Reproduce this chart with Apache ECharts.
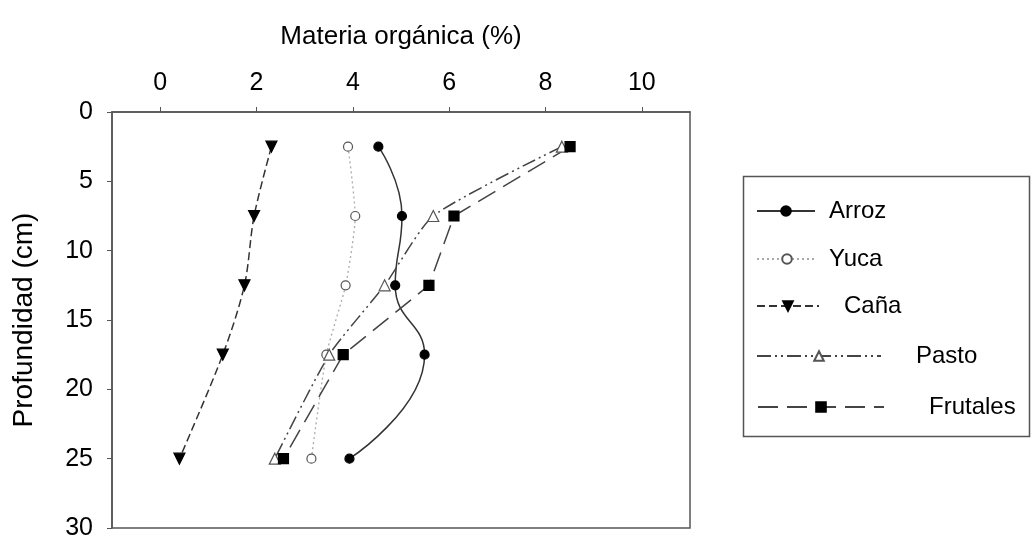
<!DOCTYPE html>
<html>
<head>
<meta charset="utf-8">
<script src="https://cdn.jsdelivr.net/npm/echarts@6/dist/echarts.min.js"></script>
<style>
  html, body { margin: 0; padding: 0; background: #fff; }
  #chart { width: 1031px; height: 546px; }
</style>
</head>
<body>
<div id="chart"></div>
<script>
// Depth of each sampling layer (cm)
const depths = [2.5, 7.5, 12.5, 17.5, 25];

// Organic matter (%) per land use, one value per depth
const arroz    = [4.53, 5.02, 4.88, 5.49, 3.93];
const yuca     = [3.90, 4.05, 3.85, 3.45, 3.14];
const cana     = [2.31, 1.95, 1.75, 1.30, 0.40];
const pasto    = [8.34, 5.67, 4.66, 3.51, 2.38];
const frutales = [8.51, 6.10, 5.58, 3.80, 2.56];

// Tick values
const xTicks = [0, 2, 4, 6, 8, 10];
const yTicks = [0, 5, 10, 15, 20, 25, 30];

const FONT = '"Liberation Sans", Arial, sans-serif';
const pairs = vals => vals.map((v, i) => [v, depths[i]]);

const seriesDefs = [
  { name: 'Arroz', data: arroz, symbol: 'circle', size: 9, fill: '#000', line: { type: 'solid', color: '#333', width: 1.5 }, smooth: 0.5, rotate: 0 },
  { name: 'Yuca', data: yuca, symbol: 'circle', size: 9, fill: '#fff', line: { type: [2, 3], color: '#aaa', width: 1.3 }, smooth: 0.2, rotate: 0 },
  { name: 'Caña', data: cana, symbol: 'triangle', size: 11, fill: '#000', line: { type: [8, 4], color: '#333', width: 1.5 }, smooth: 0.3, rotate: 180 },
  { name: 'Pasto', data: pasto, symbol: 'triangle', size: 11, fill: '#fff', line: { type: [14, 4, 2, 4, 2, 4], color: '#444', width: 1.5 }, smooth: 0.2, rotate: 0 },
  { name: 'Frutales', data: frutales, symbol: 'rect', size: 10, fill: '#000', line: { type: [20, 9], color: '#444', width: 1.5 }, smooth: 0, rotate: 0 }
];

const series = seriesDefs.map(d => ({
  name: d.name,
  type: 'line',
  data: pairs(d.data),
  symbol: d.symbol,
  symbolSize: d.size,
  symbolRotate: d.rotate,
  showAllSymbol: true,
  smooth: d.smooth,
  lineStyle: d.line,
  itemStyle: { color: d.fill, borderColor: d.fill === '#fff' ? '#555' : '#000', borderWidth: 1.2 },
  emphasis: { disabled: true },
  z: 3
}));

// One legend block per row so each sample line and label can sit on its own offset
const legendRows = [
  { name: 'Arroz',    left: 756, top: 212, w: 58,  gap: 9 },
  { name: 'Yuca',     left: 756, top: 260, w: 60,  gap: 7 },
  { name: 'Caña',     left: 756, top: 307, w: 62,  gap: 20 },
  { name: 'Pasto',    left: 756, top: 357, w: 124, gap: 30 },
  { name: 'Frutales', left: 757, top: 408, w: 126, gap: 40 }
];

const legends = legendRows.map(r => ({
  data: [r.name],
  left: r.left,
  top: r.top - 13,
  itemWidth: r.w,
  itemHeight: 12,
  padding: 0,
  selectedMode: false,
  textStyle: { fontFamily: FONT, fontSize: 24, color: '#000', padding: [0, 0, 0, r.gap] }
}));

const chart = echarts.init(document.getElementById('chart'));
chart.setOption({
  animation: false,
  backgroundColor: '#fff',
  grid: { left: 112, right: 341, top: 112, bottom: 18, show: true, borderColor: '#555', borderWidth: 1.5, containLabel: false },
  xAxis: {
    type: 'value',
    position: 'top',
    min: -1,
    max: 11,
    name: 'Materia orgánica (%)',
    nameLocation: 'middle',
    nameGap: 62,
    nameTextStyle: { fontFamily: FONT, fontSize: 26, color: '#000' },
    axisLine: { show: true, onZero: false, lineStyle: { color: '#555', width: 1.5 } },
    axisTick: { show: true, inside: false, length: 5, customValues: xTicks, lineStyle: { color: '#555' } },
    axisLabel: { customValues: xTicks, margin: 16, fontFamily: FONT, fontSize: 25, color: '#000' },
    splitLine: { show: false }
  },
  yAxis: {
    type: 'value',
    inverse: true,
    min: 0,
    max: 30,
    interval: 5,
    name: 'Profundidad (cm)',
    nameLocation: 'middle',
    nameGap: 74,
    nameRotate: 90,
    nameTextStyle: { fontFamily: FONT, fontSize: 28, color: '#000' },
    axisLine: { show: true, onZero: false, lineStyle: { color: '#555', width: 1.5 } },
    axisTick: { show: true, inside: false, length: 5, customValues: yTicks, lineStyle: { color: '#555' } },
    axisLabel: { customValues: yTicks, margin: 19, fontFamily: FONT, fontSize: 25, color: '#000' },
    splitLine: { show: false }
  },
  legend: legends,
  graphic: [{
    type: 'rect',
    shape: { x: 743.5, y: 176.5, width: 286, height: 260 },
    style: { fill: 'none', stroke: '#555', lineWidth: 1.5 },
    z: -1
  }],
  series: series
});
</script>
</body>
</html>
